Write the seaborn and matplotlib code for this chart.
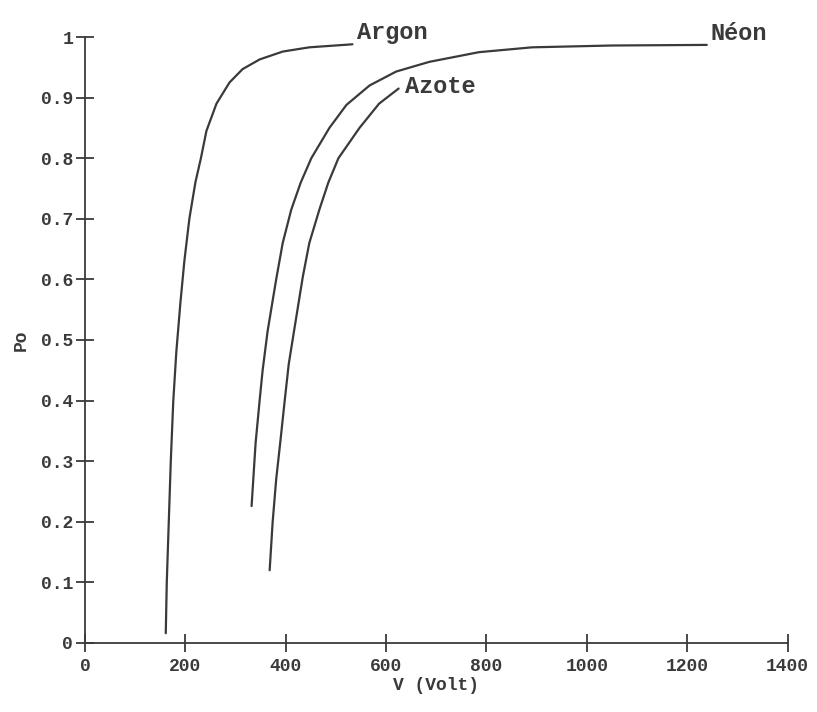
import numpy as np
import pandas as pd
import matplotlib
matplotlib.use("Agg")
import matplotlib.pyplot as plt
import seaborn as sns

# values
argon_v = [161, 163, 167, 171, 176, 182, 190, 198, 208, 220, 231, 242, 262, 288, 314, 348, 394, 447, 533]
argon_p = [0.016, 0.10, 0.20, 0.30, 0.40, 0.48, 0.56, 0.63, 0.70, 0.76, 0.80, 0.845, 0.89, 0.925, 0.947,
           0.963, 0.976, 0.983, 0.988]

neon_v = [332, 340, 348, 354, 364, 381, 394, 411, 430, 451, 487, 521, 567, 620, 686, 785, 891, 1050, 1239]
neon_p = [0.226, 0.33, 0.40, 0.45, 0.515, 0.60, 0.66, 0.715, 0.76, 0.80, 0.85, 0.888, 0.92, 0.943, 0.959,
          0.975, 0.983, 0.986, 0.987]

azote_v = [368, 374, 381, 389, 398, 406, 417, 434, 447, 467, 485, 505, 547, 586, 625]
azote_p = [0.12, 0.20, 0.27, 0.33, 0.40, 0.46, 0.517, 0.604, 0.66, 0.715, 0.76, 0.80, 0.85, 0.89, 0.915]

gases = ["Argon", "Néon", "Azote"]
label_pos = {"Argon": (543, 1.008), "Néon": (1247, 1.005), "Azote": (638, 0.918)}

x_ticks = [0, 200, 400, 600, 800, 1000, 1200, 1400]
y_ticks = [0, 0.1, 0.2, 0.3, 0.4, 0.5, 0.6, 0.7, 0.8, 0.9, 1]
y_tick_labels = ["0", "0.1", "0.2", "0.3", "0.4", "0.5", "0.6", "0.7", "0.8", "0.9", "1"]

df = pd.concat([
    pd.DataFrame({"V": argon_v, "Po": argon_p, "gas": "Argon"}),
    pd.DataFrame({"V": neon_v, "Po": neon_p, "gas": "Néon"}),
    pd.DataFrame({"V": azote_v, "Po": azote_p, "gas": "Azote"}),
], ignore_index=True)

sns.set_style("ticks")
plt.rcParams["font.family"] = ["Liberation Mono", "DejaVu Sans Mono"]
plt.rcParams["font.weight"] = "bold"
plt.rcParams["axes.labelweight"] = "bold"

ink = "#3a3a3a"

fig = plt.figure(figsize=(8.17, 7.12), dpi=100)
ax = fig.add_axes([0.104, 0.097, 0.860, 0.851])

for g in gases:
    sub = df[df["gas"] == g]
    sns.lineplot(data=sub, x="V", y="Po", ax=ax, color=ink, lw=1.6,
                 sort=False, estimator=None, legend=False)
    tx, ty = label_pos[g]
    ax.text(tx, ty, g, fontsize=17, color=ink, va="center", ha="left",
            clip_on=False)

ax.set_xlim(0, 1400)
ax.set_ylim(0, 1)
ax.set_xticks(x_ticks)
ax.set_yticks(y_ticks)
ax.set_yticklabels(y_tick_labels)
ax.tick_params(direction="inout", length=13, width=1.3, color=ink,
               labelsize=13, labelcolor=ink)
ax.tick_params(axis="x", pad=4)
ax.tick_params(axis="y", pad=2)
sns.despine(ax=ax)
for s in ["left", "bottom"]:
    ax.spines[s].set_color(ink)
    ax.spines[s].set_linewidth(1.3)

ax.set_xlabel("V (Volt)", fontsize=13, color=ink, labelpad=2)
ax.set_ylabel("Po", fontsize=13, color=ink, labelpad=8)

fig.savefig("out.png", dpi=100)
